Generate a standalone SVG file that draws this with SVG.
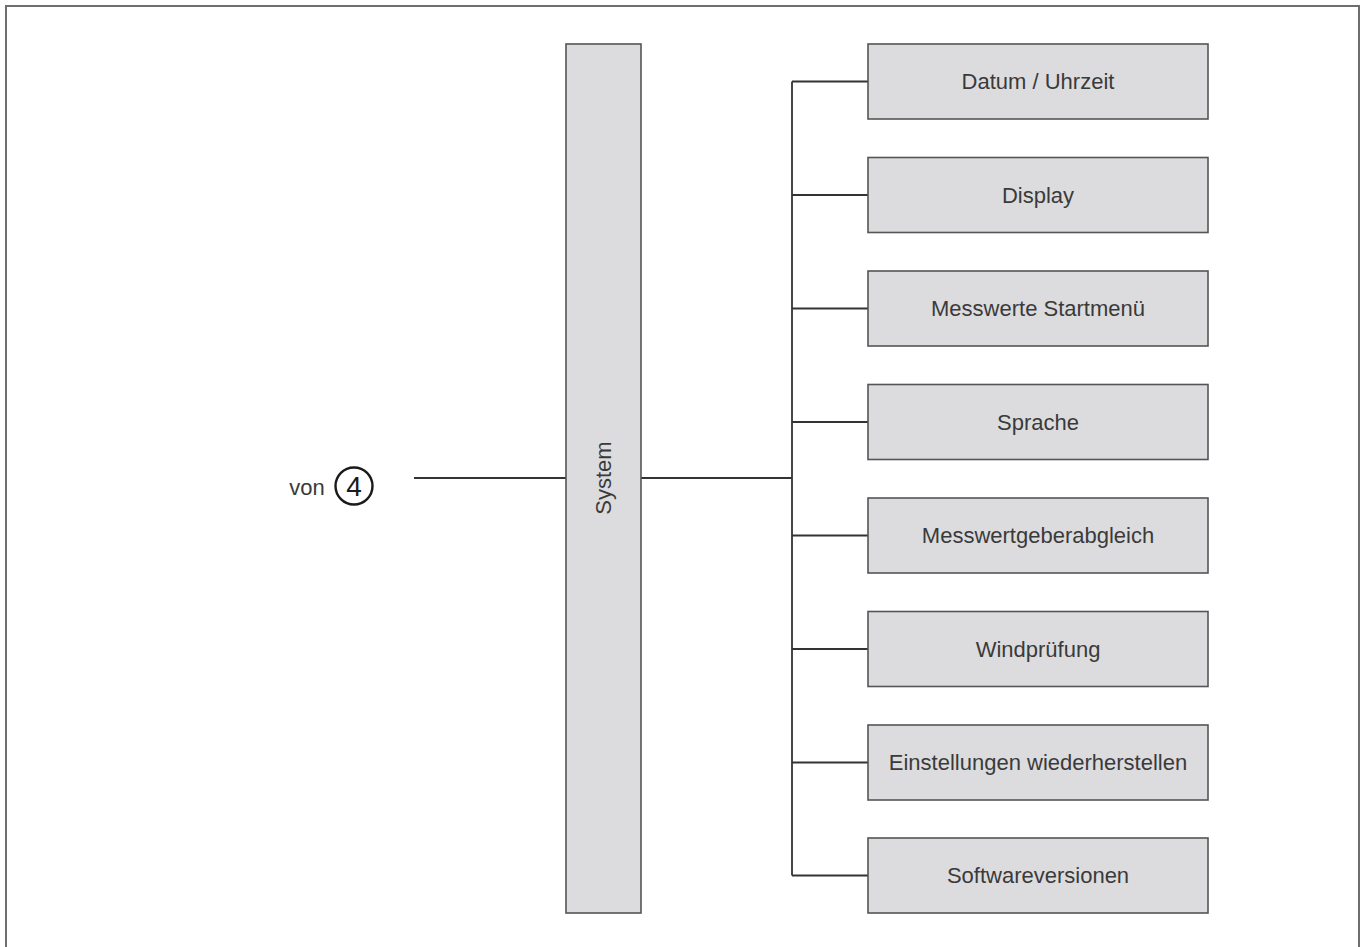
<svg xmlns="http://www.w3.org/2000/svg" width="1361" height="947" viewBox="0 0 1361 947">
<style>
.box{fill:#dcdcde;stroke:#555;stroke-width:1.6}
.t{font-family:"Liberation Sans",Arial,sans-serif;font-size:22px;fill:#3a3a3a;text-anchor:middle}
.ln{stroke:#333;stroke-width:1.8;fill:none}
</style>
<rect x="0" y="0" width="1361" height="947" fill="#fff"/>
<path d="M6,960 V6 H1359 V960" fill="none" stroke="#6e6e6e" stroke-width="2"/>
<g id="connectors">
<line class="ln" x1="414" y1="478" x2="566" y2="478"/>
<line class="ln" x1="641" y1="478" x2="792" y2="478"/>
<line class="ln" x1="792" y1="81.5" x2="792" y2="875.5"/>
<line class="ln" x1="792" y1="81.5" x2="868" y2="81.5"/>
<line class="ln" x1="792" y1="195" x2="868" y2="195"/>
<line class="ln" x1="792" y1="308.5" x2="868" y2="308.5"/>
<line class="ln" x1="792" y1="422" x2="868" y2="422"/>
<line class="ln" x1="792" y1="535.5" x2="868" y2="535.5"/>
<line class="ln" x1="792" y1="649" x2="868" y2="649"/>
<line class="ln" x1="792" y1="762.5" x2="868" y2="762.5"/>
<line class="ln" x1="792" y1="875.5" x2="868" y2="875.5"/>
</g>
<g id="von">
<text class="t" x="307" y="495">von</text>
<circle cx="354" cy="486" r="18.5" fill="none" stroke="#1a1a1a" stroke-width="2.4"/>
<text class="t" x="354" y="496" style="font-size:28px;fill:#1a1a1a">4</text>
</g>
<g id="system">
<rect class="box" x="566" y="44" width="75" height="869"/>
<text class="t" transform="translate(611,478) rotate(-90)">System</text>
</g>
<g id="n1"><rect class="box" x="868" y="44" width="340" height="75"/><text class="t" x="1038" y="89">Datum / Uhrzeit</text></g>
<g id="n2"><rect class="box" x="868" y="157.5" width="340" height="75"/><text class="t" x="1038" y="202.5">Display</text></g>
<g id="n3"><rect class="box" x="868" y="271" width="340" height="75"/><text class="t" x="1038" y="316">Messwerte Startmenü</text></g>
<g id="n4"><rect class="box" x="868" y="384.5" width="340" height="75"/><text class="t" x="1038" y="429.5">Sprache</text></g>
<g id="n5"><rect class="box" x="868" y="498" width="340" height="75"/><text class="t" x="1038" y="543">Messwertgeberabgleich</text></g>
<g id="n6"><rect class="box" x="868" y="611.5" width="340" height="75"/><text class="t" x="1038" y="656.5">Windprüfung</text></g>
<g id="n7"><rect class="box" x="868" y="725" width="340" height="75"/><text class="t" x="1038" y="770">Einstellungen wiederherstellen</text></g>
<g id="n8"><rect class="box" x="868" y="838" width="340" height="75"/><text class="t" x="1038" y="883">Softwareversionen</text></g>
</svg>
